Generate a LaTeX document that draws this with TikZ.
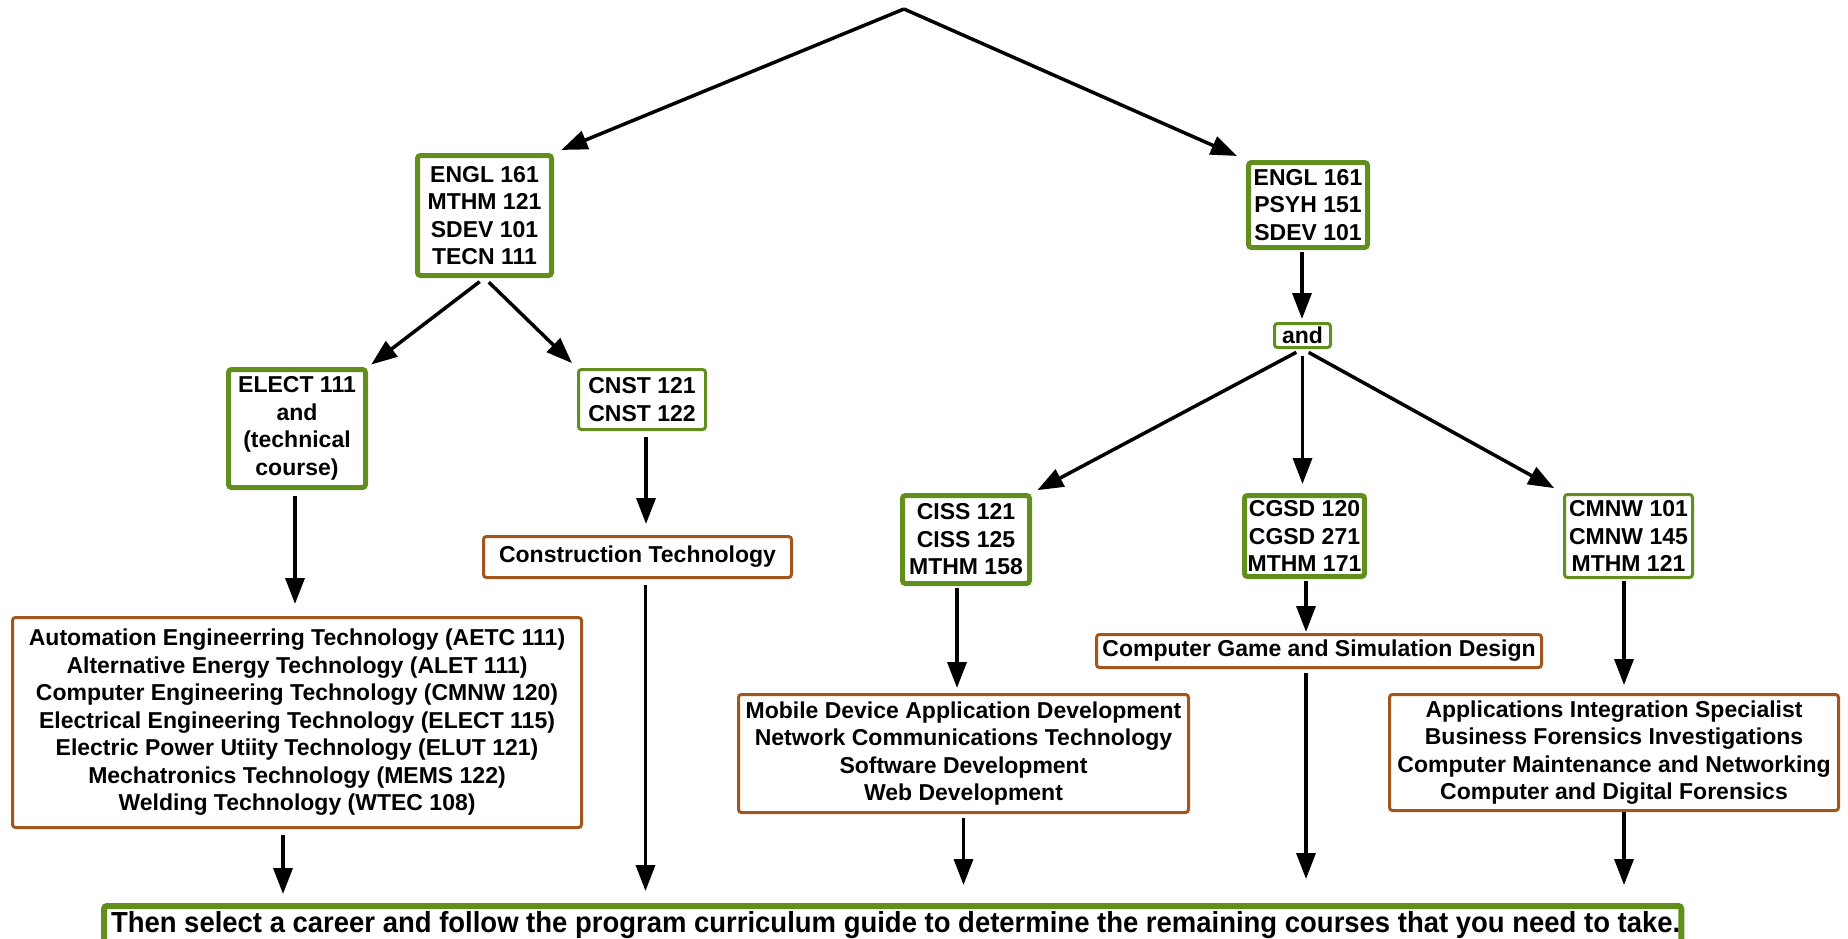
\documentclass[tikz,border=0pt]{standalone}
\usepackage{fontspec}
\setmainfont{Liberation Sans}
\usetikzlibrary{arrows.meta}
\definecolor{gr}{RGB}{98,142,30}
\definecolor{br}{RGB}{160,86,28}
\begin{document}
\begin{tikzpicture}[x=1pt,y=-1pt,
  box/.style={draw, rounded corners=3pt, fill=white, align=center, inner sep=0pt,
    font=\fontsize{23}{27.5}\selectfont\bfseries},
  gthick/.style={box, draw=gr, line width=5pt},
  gthin/.style={box, draw=gr, line width=3pt},
  brbox/.style={box, draw=br, line width=3pt},
  arr/.style={-{Triangle[length=26pt,width=19pt]}, line width=3.5pt}]
\fill[white] (0,0) rectangle (1848,938);
\useasboundingbox (0,0) rectangle (1848,938);
\clip (0,0) rectangle (1848,938);

\coordinate (top) at (904,9);

\node[gthick, minimum width=134pt, minimum height=120pt] (A) at (484.5,215.5)
  {ENGL 161\\MTHM 121\\SDEV 101\\TECN 111};
\node[gthick, minimum width=119pt, minimum height=85pt] (B) at (1308,205)
  {ENGL 161\\PSYH 151\\SDEV 101};
\node[gthin, minimum width=56pt, minimum height=24pt] (and) at (1302.5,335.5) {and};
\node[gthick, minimum width=137pt, minimum height=118pt] (elect) at (297,428.5)
  {ELECT 111\\and\\(technical\\course)};
\node[gthin, minimum width=127pt, minimum height=60pt] (cnst) at (642,399.5)
  {CNST 121\\CNST 122};
\node[brbox, minimum width=308pt, minimum height=41pt] (ct) at (637.5,557)
  {Construction Technology};
\node[brbox, minimum width=569pt, minimum height=210pt] (auto) at (297,722.5)
  {Automation Engineerring Technology (AETC 111)\\
   Alternative Energy Technology (ALET 111)\\
   Computer Engineering Technology (CMNW 120)\\
   Electrical Engineering Technology (ELECT 115)\\
   Electric Power Utiity Technology (ELUT 121)\\
   Mechatronics Technology (MEMS 122)\\
   Welding Technology (WTEC 108)};
\node[gthick, minimum width=127pt, minimum height=88pt] (ciss) at (966,539.5)
  {CISS 121\\CISS 125\\MTHM 158};
\node[gthick, minimum width=120pt, minimum height=81pt] (cgsd) at (1304.5,536)
  {CGSD 120\\CGSD 271\\MTHM 171};
\node[gthin, minimum width=128pt, minimum height=83pt] (cmnw) at (1628.5,536)
  {CMNW 101\\CMNW 145\\MTHM 121};
\node[brbox, minimum width=450pt, minimum height=118pt] (mob) at (963.5,753.5)
  {Mobile Device Application Development\\Network Communications Technology\\
   Software Development\\Web Development};
\node[brbox, minimum width=445pt, minimum height=33pt] (game) at (1319,651)
  {Computer Game and Simulation Design};
\node[brbox, minimum width=449pt, minimum height=116pt] (apps) at (1614,752.5)
  {Applications Integration Specialist\\Business Forensics Investigations\\
   Computer Maintenance and Networking\\Computer and Digital Forensics};
\node[draw=gr, line width=6pt, rounded corners=3pt, fill=white, anchor=north west,
  inner xsep=1pt, inner ysep=5pt, text height=21pt, text depth=30pt,
  font=\bfseries] (bar) at (101,903)
  {\hspace*{6pt}\resizebox{1569pt}{21pt}{Then select a career and follow the program curriculum guide to determine the remaining courses that you need to take.}};

% connectors
\draw[arr, shorten >=8pt] (top) -- (A.north east);
\draw[arr, shorten >=10pt] (top) -- (B.north west);
\draw[arr, shorten <=6pt, shorten >=4pt] (A.south) -- (elect.north east);
\draw[arr, shorten <=6pt, shorten >=7pt] (A.south) -- (cnst.north west);
\draw[arr, shorten <=6pt, shorten >=12pt] ([xshift=-2pt]elect.south) -- ([xshift=-2pt]elect.south |- auto.north);
\draw[arr, shorten <=6pt, shorten >=11pt] ([xshift=4pt]cnst.south) -- ([xshift=4pt]cnst.south |- ct.north);
\draw[arr, shorten <=6pt, shorten >=12pt] ([xshift=8pt]ct.south) -- ([xshift=8pt]ct.south |- bar.north);
\draw[arr, shorten <=6pt, shorten >=9pt] ([xshift=-14pt]auto.south) -- ([xshift=-14pt]auto.south |- bar.north);
\draw[arr, shorten <=2pt, shorten >=3pt] ([xshift=-6pt]B.south) -- ([xshift=-6pt]B.south |- and.north);
\draw[arr, shorten <=7pt, shorten >=6pt] (and.south) -- (ciss.north east);
\draw[arr, shorten <=7pt, shorten >=9pt] (and.south) -- (and.south |- cgsd.north);
\draw[arr, shorten <=7pt, shorten >=10pt] (and.south) -- (cmnw.north west);
\draw[arr, shorten <=2pt, shorten >=5pt] ([xshift=-9pt]ciss.south) -- ([xshift=-9pt]ciss.south |- mob.north);
\draw[arr, shorten <=2pt, shorten >=1pt] ([xshift=1.5pt]cgsd.south) -- ([xshift=1.5pt]cgsd.south |- game.north);
\draw[arr, shorten <=2pt, shorten >=8pt] ([xshift=-4.5pt]cmnw.south) -- ([xshift=-4.5pt]cmnw.south |- apps.north);
\draw[arr, shorten <=4pt, shorten >=18pt] (mob.south) -- (mob.south |- bar.north);
\draw[arr, shorten <=4pt, shorten >=24pt] ([xshift=-13pt]game.south) -- ([xshift=-13pt]game.south |- bar.north);
\draw[arr, shorten <=0pt, shorten >=18pt] ([xshift=10pt]apps.south) -- ([xshift=10pt]apps.south |- bar.north);
\end{tikzpicture}
\end{document}
